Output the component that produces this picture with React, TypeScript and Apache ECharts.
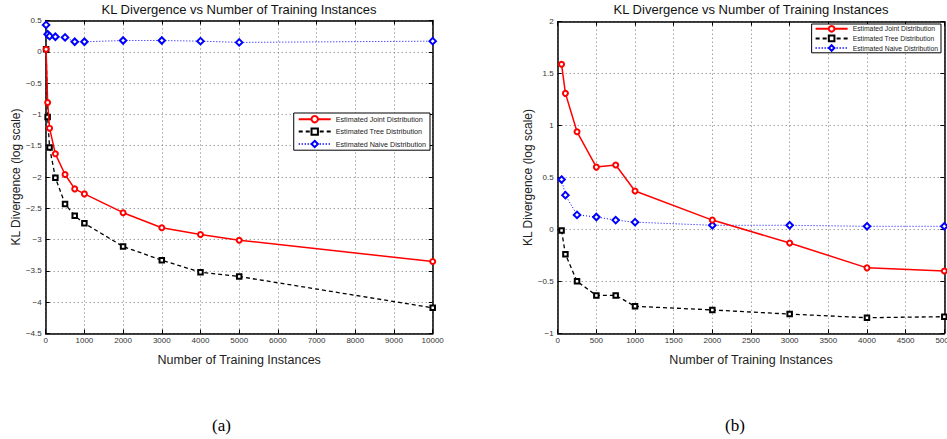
import React, { useEffect, useRef } from "react";
import * as echarts from "echarts";

const TITLE = "KL Divergence vs Number of Training Instances";
const X_NAME = "Number of Training Instances";
const Y_NAME = "KL Divergence (log scale)";
const SERIES_NAMES = ["Estimated Joint Distribution", "Estimated Tree Distribution", "Estimated Naive Distribution"];

const X_LEFT = [10, 50, 100, 250, 500, 750, 1000, 2000, 3000, 4000, 5000, 10000];
const JOINT_LEFT = [0.04, -0.81, -1.22, -1.63, -1.96, -2.19, -2.27, -2.57, -2.81, -2.92, -3.01, -3.35];
const TREE_LEFT = [0.04, -1.04, -1.53, -2.01, -2.43, -2.62, -2.74, -3.11, -3.33, -3.52, -3.59, -4.09];
const NAIVE_LEFT = [0.43, 0.28, 0.25, 0.24, 0.23, 0.16, 0.16, 0.18, 0.18, 0.17, 0.15, 0.17];

const X_RIGHT = [50, 100, 250, 500, 750, 1000, 2000, 3000, 4000, 5000];
const JOINT_RIGHT = [1.59, 1.31, 0.94, 0.6, 0.62, 0.37, 0.09, -0.13, -0.37, -0.4];
const TREE_RIGHT = [-0.01, -0.24, -0.5, -0.635, -0.635, -0.74, -0.775, -0.815, -0.85, -0.84];
const NAIVE_RIGHT = [0.48, 0.33, 0.14, 0.12, 0.09, 0.07, 0.04, 0.04, 0.03, 0.03];

const FONT = "'Liberation Sans', Arial, Helvetica, sans-serif";

const pairs = (xs: number[], ys: number[]) => xs.map((x, i) => [x, ys[i]]);
const fmt = (v: number) => String(v).replace("-", "\u2212");

export default function App() {
  const ref = useRef<HTMLDivElement>(null);
  useEffect(() => {
    if (!ref.current) return;
    const chart = echarts.init(ref.current, undefined, { renderer: "svg" });

    const grids = [
      { left: 45.7, top: 20.5, width: 387, height: 313, outerBoundsMode: "none", containLabel: false },
      { left: 557.7, top: 21.7, width: 386.6, height: 311.6, outerBoundsMode: "none", containLabel: false },
    ];
    const xr = [
      { min: 0, max: 10000, interval: 1000 },
      { min: 0, max: 5000, interval: 500 },
    ];
    const yr = [
      { min: -4.5, max: 0.5, interval: 0.5 },
      { min: -1, max: 2, interval: 0.5 },
    ];
    const axisLine = { show: true, onZero: false, lineStyle: { color: "#000", width: 1.5 } };
    const tick = { show: true, inside: true, length: 4, lineStyle: { color: "#000", width: 1 } };
    const split = { show: true, lineStyle: { color: "#777", type: [1, 3] as any, width: 1 } };
    const labelStyle = { fontFamily: FONT, fontSize: 8, color: "#333" };

    const xAxis: any[] = [];
    const yAxis: any[] = [];
    for (let g = 0; g < 2; g++) {
      xAxis.push({
        type: "value", gridIndex: g, position: "bottom", ...xr[g],
        name: X_NAME, nameLocation: "middle", nameGap: 20,
        nameTextStyle: { fontFamily: FONT, fontSize: 12.5, color: "#222" },
        axisLine, axisTick: tick, splitLine: split,
        axisLabel: { ...labelStyle, margin: 3, alignMaxLabel: "center", alignMinLabel: "center", formatter: (v: number) => fmt(v) },
      });
      xAxis.push({
        type: "value", gridIndex: g, position: "top", ...xr[g],
        axisLine, axisTick: tick, splitLine: { show: false }, axisLabel: { show: false },
      });
      yAxis.push({
        type: "value", gridIndex: g, position: "left", ...yr[g],
        name: Y_NAME, nameLocation: "middle", nameGap: 24,
        nameTextStyle: { fontFamily: FONT, fontSize: 12, color: "#222" },
        axisLine, axisTick: tick, splitLine: split,
        axisLabel: { ...labelStyle, margin: 4, formatter: (v: number) => fmt(v) },
      });
      yAxis.push({
        type: "value", gridIndex: g, position: "right", ...yr[g],
        axisLine, axisTick: tick, splitLine: { show: false }, axisLabel: { show: false },
      });
    }

    const data = [
      [JOINT_LEFT, TREE_LEFT, NAIVE_LEFT],
      [JOINT_RIGHT, TREE_RIGHT, NAIVE_RIGHT],
    ];
    const xs = [X_LEFT, X_RIGHT];
    const styles = [
      { color: "#ff0000", symbol: "emptyCircle", symbolSize: 5, type: "solid", width: 1.5 },
      { color: "#000000", symbol: "emptyRect", symbolSize: 4.5, type: [4, 3], width: 1.3 },
      { color: "#0000ff", symbol: "emptyDiamond", symbolSize: 6.5, type: [1, 2], width: 1 },
    ];
    const series: any[] = [];
    for (let g = 0; g < 2; g++) {
      for (let s = 0; s < 3; s++) {
        const st = styles[s];
        series.push({
          type: "line", name: SERIES_NAMES[s], xAxisIndex: g * 2, yAxisIndex: g * 2,
          data: pairs(xs[g], data[g][s]),
          symbol: st.symbol, symbolSize: st.symbolSize, showAllSymbol: true,
          lineStyle: { color: st.color, width: st.width, type: st.type as any },
          itemStyle: { color: st.color, borderColor: st.color, borderWidth: 1.3 },
          emphasis: { disabled: true }, z: 3 - s + 2,
        });
      }
    }

    const titleStyle = { fontFamily: FONT, fontSize: 13, fontWeight: "normal" as const, color: "#111" };
    chart.setOption({
      animation: false,
      backgroundColor: "#fff",
      title: [
        { text: TITLE, left: 239, top: 3, padding: 0, textAlign: "center", textStyle: titleStyle },
        { text: TITLE, left: 751, top: 3, padding: 0, textAlign: "center", textStyle: titleStyle },
      ],
      grid: grids,
      xAxis, yAxis, series,
      legend: [
        {
          data: SERIES_NAMES, orient: "vertical", right: 517, top: 113,
          backgroundColor: "#fff", borderColor: "#000", borderWidth: 1, borderRadius: 0,
          padding: [2, 4], itemGap: 4, itemWidth: 32, itemHeight: 8,
          textStyle: { fontFamily: FONT, fontSize: 7.2, color: "#222" },
          selectedMode: false,
        },
        {
          data: SERIES_NAMES, orient: "vertical", right: 6, top: 24,
          backgroundColor: "#fff", borderColor: "#000", borderWidth: 1, borderRadius: 0,
          padding: [1, 3], itemGap: 2, itemWidth: 32, itemHeight: 7,
          textStyle: { fontFamily: FONT, fontSize: 6.8, color: "#222" },
          selectedMode: false,
        },
      ],
      graphic: [
        { type: "text", left: 212, top: 417, style: { text: "(a)", font: "17px 'Liberation Serif', 'DejaVu Serif', serif", fill: "#000" } },
        { type: "text", left: 725, top: 417, style: { text: "(b)", font: "17px 'Liberation Serif', 'DejaVu Serif', serif", fill: "#000" } },
      ],
    });
    return () => chart.dispose();
  }, []);
  return <div ref={ref} style={{ position: "fixed", left: 0, top: 0, width: 947, height: 439 }} />;
}
